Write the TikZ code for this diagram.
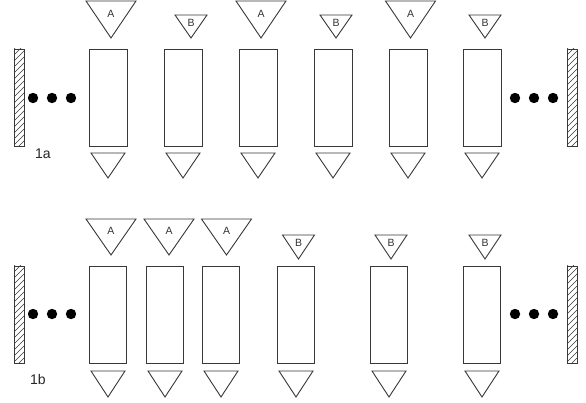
\documentclass[tikz,border=0pt]{standalone}
\usepackage{fontspec}
\setmainfont{Liberation Sans}
\begin{document}
\begin{tikzpicture}[x=1pt,y=-1pt,
  ln/.style={draw=black!78,line width=0.9pt},
  cell/.style={ln,fill=white},
  dotc/.style={fill=black},
  lbl/.style={font=\fontsize{10.5}{12}\selectfont,text=black!80,inner sep=0pt},
  rowlbl/.style={font=\fontsize{14}{16}\selectfont,text=black!85,inner sep=0pt}]
\useasboundingbox (0,0) rectangle (586,403);
\fill[white] (0,0) rectangle (586,403);

% walls
\newcommand{\mywall}[3]{% x, ytop, ybot
  \begin{scope}
    \clip (#1,#2) rectangle (#1+10,#3);
    \foreach \k in {0,6,...,120} {
      \draw[black!78,line width=0.6pt] (#1-2,#2+\k+2) -- (#1+12,#2+\k-12);
    }
  \end{scope}
  \draw[ln] (#1,#2) rectangle (#1+10,#3);
}
\newcommand{\mytri}[5]{% cx, top, width, height, name
  \draw[ln] (#1-#3/2,#2) -- (#1+#3/2,#2) -- (#1,#2+#4) -- cycle;
}

% ---------- row 1a ----------
\mywall{14}{49}{146}
\mywall{567}{49}{146}
\foreach \x [count=\i] in {33,52,71} \fill[dotc] (\x,98) circle (5.2) coordinate (dla\i);
\foreach \x [count=\i] in {515,534,553} \fill[dotc] (\x,98) circle (5.2) coordinate (dra\i);
\foreach \x [count=\i] in {89,164,239,314,389,463} {
  \draw[cell] (\x,49) rectangle (\x+38,146);
  \coordinate (ra\i) at (\x+19,97.5);
  \mytri{\x+19}{153}{34}{25}{}
}
\foreach \cx/\l [count=\i] in {111/A,261/A,410.5/A} {
  \mytri{\cx}{1}{50}{37}{}
  \node[lbl] (ta\i) at (\cx,13.5) {\l};
}
\foreach \cx/\l [count=\i] in {191/B,336/B,485/B} {
  \mytri{\cx}{15}{32}{23}{}
  \node[lbl] (tb\i) at (\cx,23) {\l};
}
\node[rowlbl] (l1a) at (43,154) {1a};

% ---------- row 1b ----------
\mywall{14}{266}{363}
\mywall{567}{266}{363}
\foreach \x [count=\i] in {33,52,71} \fill[dotc] (\x,314) circle (5.2) coordinate (dlb\i);
\foreach \x [count=\i] in {515,534,553} \fill[dotc] (\x,314) circle (5.2) coordinate (drb\i);
\foreach \x [count=\i] in {89,146,202,277,370,463} {
  \draw[cell] (\x,266) rectangle (\x+37.5,363);
  \coordinate (rb\i) at (\x+19,314.5);
  \mytri{\x+19}{371}{34}{26}{}
}
\foreach \cx/\l [count=\i] in {111/A,169/A,226.5/A} {
  \mytri{\cx}{219}{50}{36}{}
  \node[lbl] (tc\i) at (\cx,231) {\l};
}
\foreach \cx/\l [count=\i] in {298.5/B,391/B,485/B} {
  \mytri{\cx}{235}{32}{24}{}
  \node[lbl] (td\i) at (\cx,243) {\l};
}
\node[rowlbl] (l1b) at (38,379) {1b};
\end{tikzpicture}
\end{document}
